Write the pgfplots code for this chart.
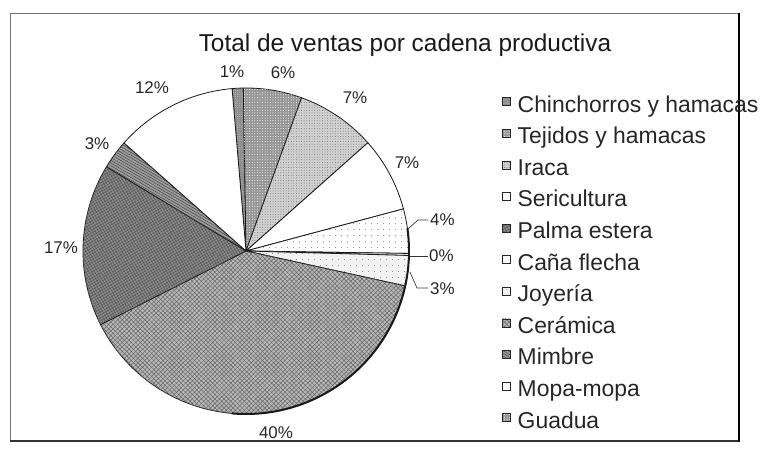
\documentclass[border=0pt]{standalone}
\usepackage{pgfplots}
\pgfplotsset{compat=1.18}
\usepackage{pgfplotstable}
\usepackage{fontspec}
\setmainfont{Liberation Sans}
\usetikzlibrary{patterns,patterns.meta}

% slice values (percent of the full circle), clockwise from top
\pgfplotstableread[col sep=comma]{
name,value,label
Chinchorros y hamacas,1.1,1
Tejidos y hamacas,5.8,6
Iraca,7.9,7
Sericultura,7.4,7
Palma estera,4.4,4
Caña flecha,0.2,0
Joyería,3.0,3
Cerámica,39.1,40
Mimbre,16.1,17
Mopa-mopa,2.9,3
Guadua,12.1,12
}\piedata

\tikzset{
  s0/.style={fill=black!45, postaction={pattern={Dots[distance=2.2bp,radius=0.45bp]}, pattern color=white!80!black}},
  s1/.style={fill=black!42, postaction={pattern={Dots[distance=2.6bp,radius=0.55bp]}, pattern color=white}},
  s2/.style={fill=black!18, postaction={pattern={Dots[distance=2.6bp,radius=0.5bp]}, pattern color=black!55}},
  s3/.style={fill=white},
  s4/.style={fill=white, postaction={pattern={Dots[distance=6bp,radius=0.5bp]}, pattern color=black!70}},
  s5/.style={fill=white},
  s6/.style={fill=black!5, postaction={pattern={Dots[distance=6bp,radius=0.5bp,xshift=3bp]}, pattern color=black!70}},
  s7/.style={fill=black!28, postaction={pattern={Hatch[distance=3.2bp,angle=45,line width=0.5bp]}, pattern color=black!60}},
  s8/.style={fill=black!45, postaction={pattern={Hatch[distance=2.6bp,angle=30,line width=0.5bp]}, pattern color=black!65}},
  s9/.style={fill=black!38, postaction={pattern={Lines[distance=2.4bp,angle=-30,line width=0.6bp]}, pattern color=black!70}},
  s10/.style={fill=white},
}

\begin{document}
\begin{tikzpicture}
\begin{axis}[
  scale only axis, width=765bp, height=451bp,
  xmin=0, xmax=765, ymin=0, ymax=451,
  enlargelimits=false, hide axis, clip=false,
  legend style={at={(axis cs:502,357)}, anchor=north west, draw=none, fill=none,
    inner sep=0pt, row sep=7.6bp, column sep=6bp,
    font=\fontsize{23}{27}\selectfont\color{black!85},
    nodes={inner sep=1bp, text height=17bp, text depth=5bp}},
  legend cell align=left,
  legend image code/.code={\filldraw[#1, draw=black!85, line width=0.5bp] (0bp,0.5bp) rectangle (8bp,8.5bp);},
]
\path (axis cs:0,0) rectangle (axis cs:765,451);
% pie slices from the table
\pgfmathsetmacro\startang{94.9}
\pgfplotsforeachungrouped \i in {0,...,10}{%
  \pgfplotstablegetelem{\i}{value}\of\piedata
  \pgfmathsetmacro\endang{\startang-3.6*\pgfplotsretval}%
  \edef\temp{\noexpand\filldraw[s\i, draw=black!90, line width=0.8bp] (axis cs:246,200) -- ([shift={(\startang:163bp)}]axis cs:246,200) arc[start angle=\startang, end angle=\endang, radius=163bp] -- cycle;}%
  \temp
  \global\let\startang\endang
}
% darker lower-right rim
\draw[black!90, line width=2bp] ([shift={(8:163bp)}]axis cs:246,200) arc[start angle=8, end angle=-95, radius=163bp];

% legend entries
\addlegendimage{s0}\addlegendentry{Chinchorros y hamacas}
\addlegendimage{s1}\addlegendentry{Tejidos y hamacas}
\addlegendimage{s2}\addlegendentry{Iraca}
\addlegendimage{s3}\addlegendentry{Sericultura}
\addlegendimage{s8}\addlegendentry{Palma estera}
\addlegendimage{s5}\addlegendentry{Caña flecha}
\addlegendimage{s6}\addlegendentry{Joyería}
\addlegendimage{s7}\addlegendentry{Cerámica}
\addlegendimage{s9}\addlegendentry{Mimbre}
\addlegendimage{s10}\addlegendentry{Mopa-mopa}
\addlegendimage{s1}\addlegendentry{Guadua}

% title
\node[anchor=base, font=\fontsize{24.5}{28}\selectfont, text=black!90] at (axis cs:405,399) {Total de ventas por cadena productiva};

% percentage labels
\begin{scope}[every node/.style={font=\fontsize{17}{20}\selectfont, text=black!85, inner sep=0pt}]
\node[anchor=base] at (axis cs:232,373) {1\%};
\node[anchor=base] at (axis cs:283,372) {6\%};
\node[anchor=base] at (axis cs:355,347) {7\%};
\node[anchor=base] at (axis cs:407,282) {7\%};
\node[anchor=base west] at (axis cs:430,225) {4\%};
\node[anchor=base west] at (axis cs:429,189) {0\%};
\node[anchor=base west] at (axis cs:430,156) {3\%};
\node[anchor=base] at (axis cs:276,13) {40\%};
\node[anchor=base] at (axis cs:61,197) {17\%};
\node[anchor=base] at (axis cs:97,301) {3\%};
\node[anchor=base] at (axis cs:152,357) {12\%};
\end{scope}
% leader lines
\draw[black!80, line width=0.7bp] (axis cs:408,222) -- (axis cs:418,231) -- (axis cs:428,231);
\draw[black!80, line width=0.7bp] (axis cs:410,195) -- (axis cs:428,195);
\draw[black!80, line width=0.7bp] (axis cs:410,179) -- (axis cs:417,163) -- (axis cs:428,163);

% chart frame
\draw[black!55, line width=0.6bp] (axis cs:739,438) -- (axis cs:10,438) -- (axis cs:10,10);
\draw[black!80, line width=1.4bp] (axis cs:10,10) -- (axis cs:739,10);
\draw[black, line width=2.4bp] (axis cs:739,9) -- (axis cs:739,438);
\end{axis}
\end{tikzpicture}
\end{document}
